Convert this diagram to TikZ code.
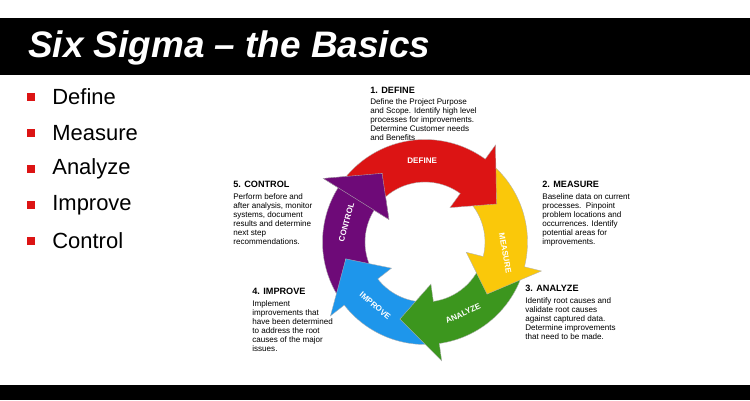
\documentclass[tikz,border=0pt]{standalone}
\usepackage{fontspec}
\setmainfont{Liberation Sans}
\usetikzlibrary{calc}
\definecolor{sred}{RGB}{220,20,20}
\definecolor{syellow}{RGB}{250,200,10}
\definecolor{sgreen}{RGB}{60,150,30}
\definecolor{sblue}{RGB}{30,150,235}
\definecolor{spurple}{RGB}{110,10,120}
\tikzset{
  steptitle/.style={anchor=north west,inner sep=0pt,font=\fontsize{5.2}{6}\selectfont\bfseries},
  stepbody/.style={anchor=north west,inner sep=0pt,align=left,font=\fontsize{4.6}{5.2}\selectfont},
  ringlabel/.style={text=white,font=\fontsize{4.6}{5}\selectfont\bfseries},
  bullet/.style={anchor=west,inner sep=0pt,font=\fontsize{12.5}{14}\selectfont},
  ringpiece/.style={draw=black!30,line width=0.2pt},
}
% ring arrow: #1 colour, #2 notch angle, #3 body start, #4 head base, #5 tip
\newcommand{\ringarrow}[5]{
  \fill[#1,ringpiece] (#3:2.05cm) arc[start angle=#3,end angle=#4,radius=2.05cm]
    -- (#4:2.4cm) -- (#5:1.62cm) -- (#4:0.85cm) -- (#4:1.2cm)
    arc[start angle=#4,end angle=#3,radius=1.2cm] -- (#2:1.62cm) -- cycle;
}
% head only: #1 colour, #2 head base, #3 tip
\newcommand{\ringhead}[3]{
  \fill[#1,ringpiece] (#2:2.05cm) -- (#2:2.4cm) -- (#3:1.62cm) -- (#2:0.85cm) -- (#2:1.2cm) -- cycle;
}
\begin{document}
\begin{tikzpicture}[x=0.02cm,y=0.02cm]
\useasboundingbox (0,0) rectangle (750,400);
\fill[white] (0,0) rectangle (750,400);
\fill[black] (0,325) rectangle (750,382);
\fill[black] (0,0) rectangle (750,15);
\node[anchor=west,text=white,font=\fontsize{21}{24}\selectfont\bfseries\itshape] (title) at (22,352) {Six Sigma – the Basics};
% bullets
\foreach \t [count=\i] in {Define,Measure,Analyze,Improve,Control}{
  \fill[sred] (27,{400-97-(\i-1)*36-4}) rectangle (35,{400-97-(\i-1)*36+4});
  \node[bullet] (b\i) at (52,{400-97-(\i-1)*36}) {\t};
}
% cycle
\begin{scope}[shift={(425,158)}]
  \ringarrow{spurple}{-168}{214}{148}{122}
  \ringarrow{sblue}{-108}{-84}{-142}{-168}
  \ringarrow{sgreen}{-40}{-16}{-82}{-108}
  \ringarrow{syellow}{28}{52}{-14}{-40}
  \ringarrow{sred}{122}{148}{54}{28}
  \ringhead{spurple}{148}{122}
  \node[ringlabel] (ldefine) at (92:1.62cm) {DEFINE};
  \node[ringlabel,rotate=-80] (lmeasure) at (-8:1.62cm) {MEASURE};
  \node[ringlabel,rotate=25] (lanalyze) at (-62:1.62cm) {ANALYZE};
  \node[ringlabel,rotate=-40] (limprove) at (-128:1.62cm) {IMPROVE};
  \node[ringlabel,rotate=75] (lcontrol) at (166:1.62cm) {CONTROL};
\end{scope}
% step texts
\node[steptitle] (t1) at (370,313) {1. DEFINE};
\node[stepbody] (d1) at (370,302) {Define the Project Purpose\\and Scope. Identify high level\\processes for improvements.\\Determine Customer needs\\and Benefits};
\node[steptitle] (t2) at (542,219) {2. MEASURE};
\node[stepbody] (d2) at (542,207) {Baseline data on current\\processes.\ \ Pinpoint\\problem locations and\\occurrences. Identify\\potential areas for\\improvements.};
\node[steptitle] (t3) at (525,115) {3. ANALYZE};
\node[stepbody] (d3) at (525,103) {Identify root causes and\\validate root causes\\against captured data.\\Determine improvements\\that need to be made.};
\node[steptitle] (t4) at (252,112) {4. IMPROVE};
\node[stepbody] (d4) at (252,100) {Implement\\improvements that\\have been determined\\to address the root\\causes of the major\\issues.};
\node[steptitle] (t5) at (233,219) {5. CONTROL};
\node[stepbody] (d5) at (233,207) {Perform before and\\after analysis, monitor\\systems, document\\results and determine\\next step\\recommendations.};
\end{tikzpicture}
\end{document}
